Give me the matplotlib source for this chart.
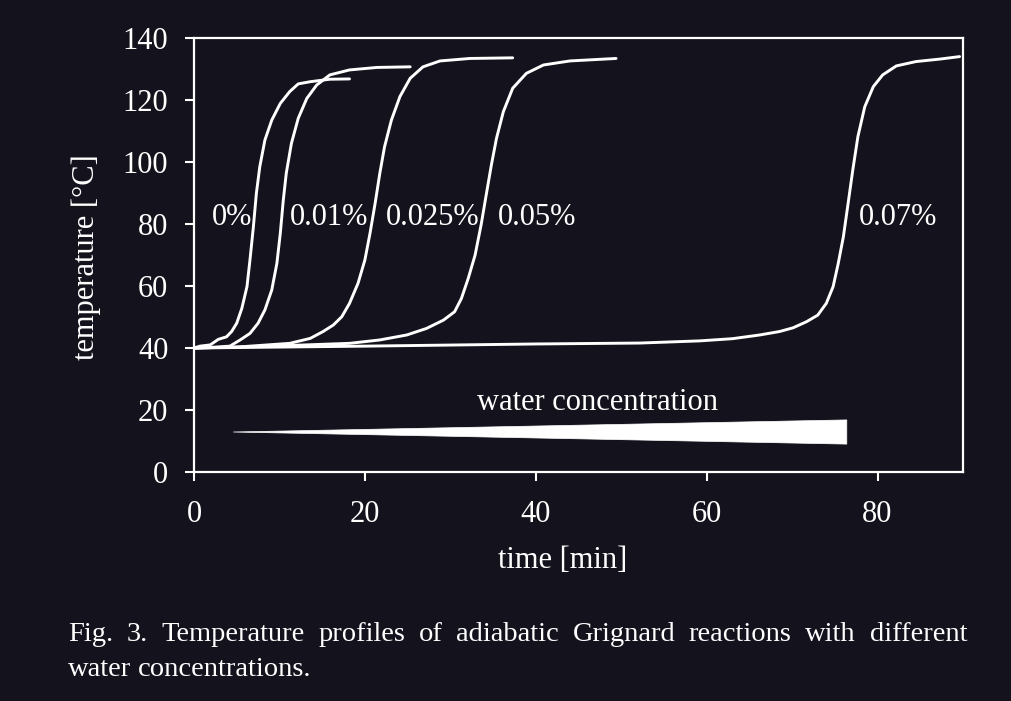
import matplotlib
matplotlib.use("Agg")
import matplotlib.pyplot as plt
from matplotlib.patches import Polygon

# Точки кривих: час [хв], температура [°C]
t_0 = [0, 0.7, 1.9, 2.85, 3.8, 4.4, 5.0, 5.6, 6.2, 6.55, 6.95, 7.3, 7.7, 8.3, 9.1,
       10.1, 11.2, 12.2, 13.6, 15.9, 18.2]
T_0 = [40, 40.6, 41, 42.8, 43.6, 45.3, 48.0, 52.8, 59.8, 68.4, 79.1, 89.9, 98.5, 107.1, 113.5,
       118.9, 122.7, 125.2, 125.9, 126.7, 126.8]

t_001 = [0, 2.0, 4.2, 5.4, 6.55, 7.5, 8.3, 9.1, 9.7, 10.1, 10.45, 10.8, 11.4, 12.2, 13.2,
         14.35, 15.9, 18.2, 21.4, 25.3]
T_001 = [40, 40.2, 40.6, 42.6, 44.7, 48, 52.3, 58.7, 67.3, 77, 87.7, 96.4, 106, 114.1, 120.5,
         124.8, 128.1, 129.7, 130.5, 130.7]

t_0025 = [0, 5.0, 11.2, 13.6, 15.1, 16.3, 17.3, 18.2, 19.2, 20.0, 20.6, 21.2, 21.75, 22.3,
          23.1, 24.1, 25.3, 26.8, 28.8, 32.3, 37.3]
T_0025 = [40, 40.3, 41.5, 43.1, 45.3, 47.4, 50.1, 54.4, 60.9, 68.4, 77, 86.7, 96.4, 104.9,
          113.5, 121.1, 127, 130.7, 132.6, 133.4, 133.6]

t_005 = [0, 8.0, 18.2, 21.75, 24.9, 27.2, 29.2, 30.5, 31.3, 32.1, 32.9, 33.6, 34.2, 34.8,
         35.4, 36.2, 37.3, 38.9, 40.9, 44.0, 49.4]
T_005 = [40, 40.5, 41.5, 42.6, 44.2, 46.3, 49, 51.7, 56, 62.5, 70, 79.7, 89.4, 99,
         107.6, 116.2, 123.8, 128.6, 131.3, 132.6, 133.4]

t_007 = [0, 20, 40, 52.2, 59.2, 63.0, 66.2, 68.5, 70.1, 71.7, 73.0, 74.0, 74.8, 75.4, 76.0,
         76.5, 77.1, 77.7, 78.5, 79.5, 80.6, 82.2, 84.5, 87.3, 89.6]
T_007 = [40, 40.6, 41.3, 41.6, 42.3, 43.0, 44.2, 45.3, 46.5, 48.5, 50.6, 54.4, 59.8, 67.3, 75.9,
         85.6, 97.4, 108.2, 117.8, 124.3, 128.1, 131, 132.4, 133.2, 134]

curves = [(t_0, T_0), (t_001, T_001), (t_0025, T_0025), (t_005, T_005), (t_007, T_007)]

# Підписи кривих
labels = ["0%", "0.01%", "0.025%", "0.05%", "0.07%"]
label_x = [2.07, 11.2, 22.5, 35.6, 77.8]
label_y = [82, 82, 82, 82, 82]

# Клин "water concentration"
wedge_x = [4.6, 76.4, 76.4]
wedge_y = [12.9, 16.8, 9.0]

x_ticks = [0, 20, 40, 60, 80]
y_ticks = [0, 20, 40, 60, 80, 100, 120, 140]

caption_1 = "Fig. 3. Temperature profiles of adiabatic Grignard reactions with different"
caption_2 = "water concentrations."

bg = "#14121c"
fg = "white"
fs = 22
plt.rcParams["font.family"] = ["Liberation Serif", "DejaVu Serif"]

fig = plt.figure(figsize=(10.11, 7.01), dpi=100, facecolor=bg)
ax = fig.add_axes([194 / 1011, 1 - 472 / 701, (963 - 194) / 1011, (472 - 38) / 701])
ax.set_facecolor(bg)

for t, T in curves:
    ax.plot(t, T, color=fg, linewidth=2.1, solid_joinstyle="round", solid_capstyle="round")

for lab, lx, ly in zip(labels, label_x, label_y):
    ax.text(lx, ly, lab, color=fg, fontsize=fs, ha="left", va="center")

ax.add_patch(Polygon(list(zip(wedge_x, wedge_y)), closed=True, facecolor=fg, edgecolor=fg, lw=0.5))
ax.text(47.2, 20.0, "water concentration", color=fg, fontsize=fs, ha="center", va="baseline")

ax.set_xlim(0, 90)
ax.set_ylim(0, 140)
ax.set_xticks(x_ticks)
ax.set_yticks(y_ticks)
ax.tick_params(colors=fg, labelsize=fs, length=6.5, width=1.5, direction="out")
ax.tick_params(axis="x", pad=14)
ax.tick_params(axis="y", pad=12)
for s in ax.spines.values():
    s.set_color(fg)
    s.set_linewidth(1.6)

ax.set_xlabel("time [min]", color=fg, fontsize=fs)
ax.set_ylabel("temperature [°C]", color=fg, fontsize=fs)
ax.xaxis.set_label_coords(0.48, (472 - 561) / 434)
ax.xaxis.label.set_va("center")
ax.yaxis.set_label_coords((86 - 194) / 769, 0.495)
ax.yaxis.label.set_va("center")

# Підпис рисунка, перший рядок вирівняно по ширині
fig.canvas.draw()
renderer = fig.canvas.get_renderer()
W = fig.get_size_inches()[0] * fig.dpi


def place_line(line, y, x0, x1, stretch=True):
    words = line.split(" ")
    texts = [fig.text(0, y, w, color=fg, fontsize=20.5, ha="left", va="baseline") for w in words]
    widths = [tx.get_window_extent(renderer).width for tx in texts]
    if stretch and len(words) > 1:
        gap = (x1 - x0 - sum(widths)) / (len(words) - 1)
    else:
        gap = 20.5 * 0.25 * fig.dpi / 72
    x = x0
    for tx, w in zip(texts, widths):
        tx.set_x(x / W)
        x += w + gap


place_line(caption_1, 1 - 641 / 701, 68, 967)
place_line(caption_2, 1 - 676 / 701, 68, 967, stretch=False)

fig.savefig("out.png", dpi=100, facecolor=bg)
